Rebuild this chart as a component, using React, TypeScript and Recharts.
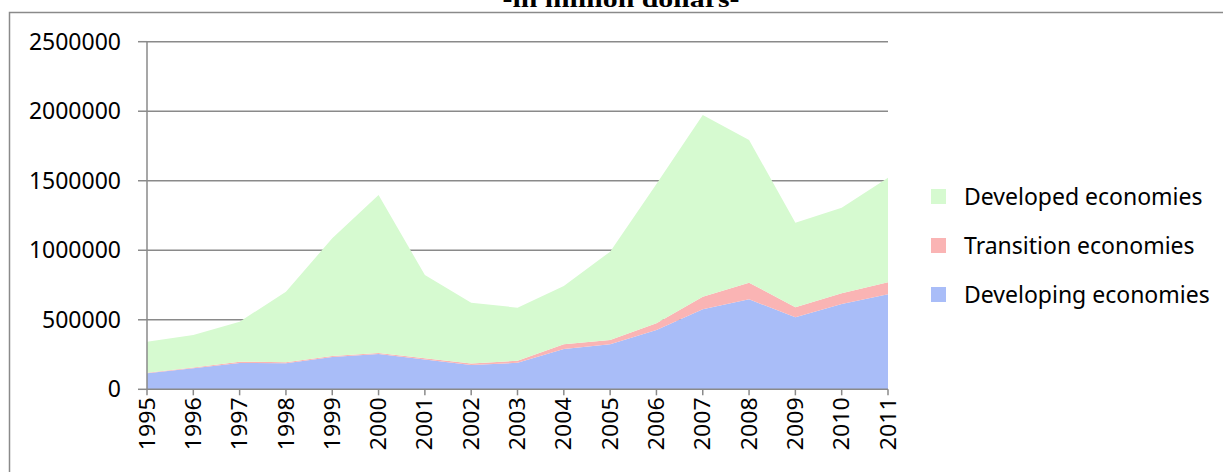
import React from "react";
import { AreaChart, Area, XAxis, YAxis, CartesianGrid } from "recharts";

// FDI inflows by group of economies, in million dollars
const years = [
  "1995", "1996", "1997", "1998", "1999", "2000", "2001", "2002", "2003",
  "2004", "2005", "2006", "2007", "2008", "2009", "2010", "2011",
];
const developing = [
  115000, 151000, 190000, 188000, 232000, 254000, 215000, 174000, 191000,
  290000, 324000, 427000, 575000, 647000, 518000, 614000, 683000,
];
const transition = [
  4000, 6000, 9000, 7000, 8000, 7000, 8000, 11000, 15000,
  34000, 31000, 48000, 91000, 120000, 72000, 76000, 87000,
];
const developed = [
  223000, 234000, 287000, 507000, 846000, 1136000, 599000, 438000, 381000,
  419000, 635000, 1002000, 1307000, 1026000, 608000, 616000, 752000,
];
const yTicks = [0, 500000, 1000000, 1500000, 2000000, 2500000];

const series = [
  { key: "developing", name: "Developing economies", color: "#A9BDF8" },
  { key: "transition", name: "Transition economies", color: "#FAB4B4" },
  { key: "developed", name: "Developed economies", color: "#D6FAD0" },
];

const data = years.map((year, i) => ({
  year,
  developing: developing[i],
  transition: transition[i],
  developed: developed[i],
}));

const FONT = "'Noto Sans', sans-serif";
const GRID = "#8a8a8a";

function YearTick({ x, y, payload }: { x?: number; y?: number; payload?: { value: string } }) {
  return (
    <text
      x={0}
      y={0}
      transform={`translate(${x},${y}) rotate(-90)`}
      textAnchor="end"
      dy="0.36em"
      fontSize={21}
      textLength={53}
      lengthAdjust="spacingAndGlyphs"
      fontFamily={FONT}
      fill="#000"
    >
      {payload?.value}
    </text>
  );
}

export default function App() {
  return (
    <div
      style={{
        position: "absolute",
        left: 0,
        top: 0,
        width: 1223,
        height: 472,
        overflow: "hidden",
        background: "#fff",
      }}
    >
      <svg width={1223} height={472} style={{ position: "absolute", left: 0, top: 0 }}>
        {/* title sits mostly above the visible area, as in the source */}
        <text
          x={621}
          y={6.5}
          textAnchor="middle"
          fontFamily="'Liberation Serif', 'Times New Roman', serif"
          fontWeight="bold"
          fontSize={24}
          textLength={237}
          lengthAdjust="spacingAndGlyphs"
          fill="#000"
        >
          -in million dollars-
        </text>
        <rect x={9.5} y={12.5} width={1400} height={600} fill="none" stroke={GRID} strokeWidth={1.5} />
      </svg>

      <div style={{ position: "absolute", left: 0, top: 0 }}>
        <AreaChart
          width={1223}
          height={472}
          data={data}
          margin={{ top: 41.7, right: 335, bottom: 12.7, left: 0 }}
        >
          <CartesianGrid stroke={GRID} strokeWidth={1.5} vertical={false} />
          <XAxis
            dataKey="year"
            height={70}
            interval={0}
            tick={<YearTick />}
            tickSize={6}
            tickMargin={2}
            axisLine={{ stroke: GRID, strokeWidth: 1.5 }}
            tickLine={{ stroke: GRID, strokeWidth: 1.5 }}
          />
          <YAxis
            width={147}
            domain={[0, 2500000]}
            ticks={yTicks}
            interval={0}
            tickSize={9}
            tickMargin={17}
            tick={{ fontSize: 23, fontFamily: FONT, fill: "#000" }}
            axisLine={{ stroke: GRID, strokeWidth: 1.5 }}
            tickLine={{ stroke: GRID, strokeWidth: 1.5 }}
          />
          {series.map((s) => (
            <Area
              key={s.key}
              type="linear"
              dataKey={s.key}
              name={s.name}
              stackId="fdi"
              stroke="none"
              fill={s.color}
              fillOpacity={1}
              isAnimationActive={false}
              dot={false}
              activeDot={false}
            />
          ))}
        </AreaChart>
      </div>

      <div style={{ position: "absolute", left: 931, top: 171.5, fontFamily: FONT, fontSize: 23, color: "#000" }}>
        {[...series].reverse().map((s) => (
          <div key={s.key} style={{ height: 49, display: "flex", alignItems: "center" }}>
            <div style={{ width: 15, height: 15, background: s.color }} />
            <span style={{ marginLeft: 18, whiteSpace: "nowrap" }}>{s.name}</span>
          </div>
        ))}
      </div>
    </div>
  );
}
